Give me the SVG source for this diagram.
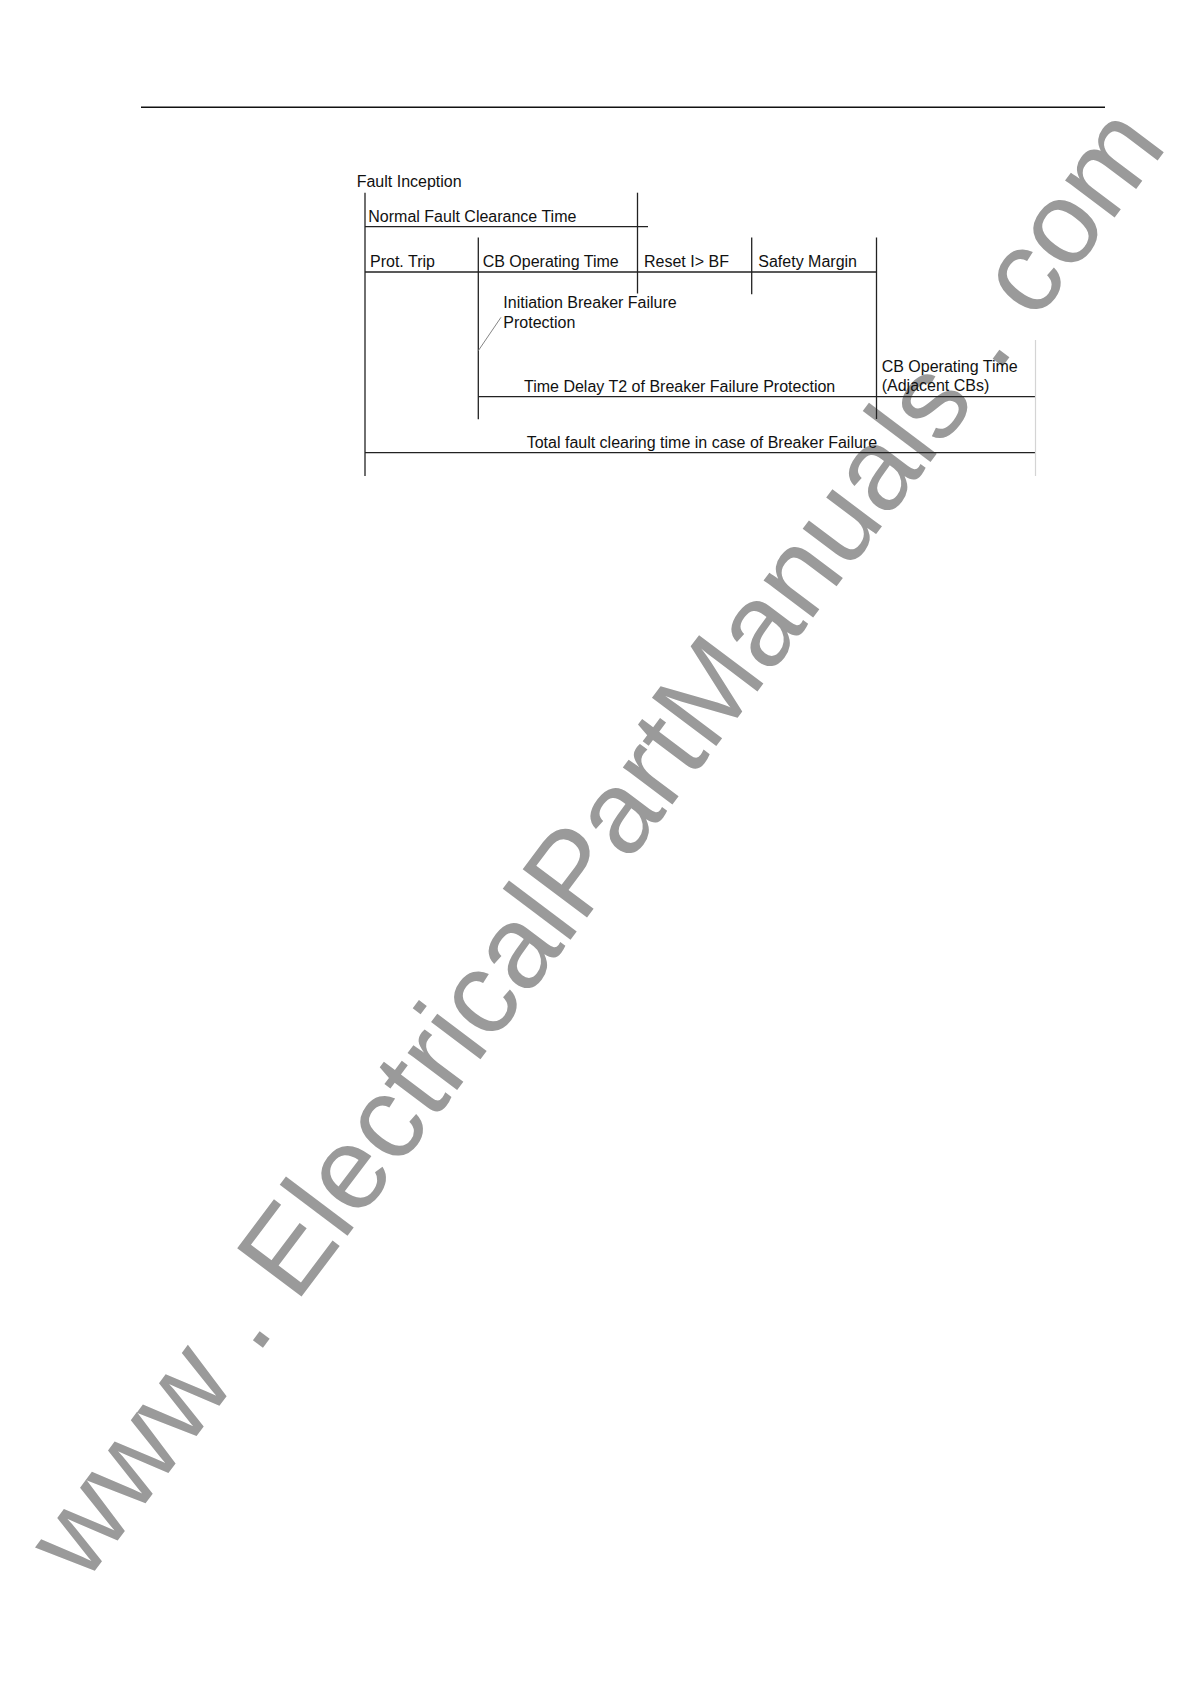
<svg xmlns="http://www.w3.org/2000/svg" width="1190" height="1684" viewBox="0 0 1190 1684">
<style>
.t{font-family:"Liberation Sans",Arial,sans-serif;font-size:16px;fill:#111}
.l{stroke:#222;stroke-width:1.3;fill:none}
.g{stroke:#d4d4d4;stroke-width:1.2;fill:none}
.wm{font-family:"Liberation Sans",Arial,sans-serif;font-size:117px;fill:#9a9a9a}
</style>
<rect width="1190" height="1684" fill="#fff"/>
<text class="wm" transform="translate(84.5,1584.6) rotate(-53)" xml:space="preserve">www . ElectricalPartManuals . com</text>
<line x1="141" y1="107.3" x2="1105" y2="107.3" stroke="#111" stroke-width="1.6"/>
<g id="connectors">
<line class="l" x1="365" y1="192.7" x2="365" y2="476"/>
<line class="l" x1="637.5" y1="192.7" x2="637.5" y2="293.5"/>
<line class="l" x1="365" y1="226.7" x2="648" y2="226.7"/>
<line class="l" x1="478.3" y1="237.5" x2="478.3" y2="419.3"/>
<line class="l" x1="751.7" y1="237.5" x2="751.7" y2="294.3"/>
<line class="l" x1="876.5" y1="237.5" x2="876.5" y2="419"/>
<line class="l" x1="365" y1="272" x2="876.5" y2="272"/>
<line class="l" x1="478.3" y1="396.7" x2="1035.5" y2="396.7"/>
<line class="l" x1="365" y1="452.7" x2="1035.5" y2="452.7"/>
<line class="g" x1="1035.5" y1="340" x2="1035.5" y2="476"/>
<line x1="478.3" y1="350.7" x2="501" y2="317.3" stroke="#777" stroke-width="0.9"/>
</g>
<g id="fault-inception"><text class="t" x="356.7" y="187">Fault Inception</text></g>
<g id="normal-clearance"><text class="t" x="368.3" y="221.7">Normal Fault Clearance Time</text></g>
<g id="prot-trip"><text class="t" x="370" y="267.3">Prot. Trip</text></g>
<g id="cb-operating"><text class="t" x="482.7" y="267.3">CB Operating Time</text></g>
<g id="reset-bf"><text class="t" x="644" y="267.3">Reset I&gt; BF</text></g>
<g id="safety-margin"><text class="t" x="758.3" y="267.3">Safety Margin</text></g>
<g id="initiation"><text class="t" x="503.3" y="308.3">Initiation Breaker Failure</text><text class="t" x="503.3" y="327.7">Protection</text></g>
<g id="time-delay"><text class="t" x="524" y="391.7">Time Delay T2 of Breaker Failure Protection</text></g>
<g id="cb-adjacent"><text class="t" x="881.7" y="371.7">CB Operating Time</text><text class="t" x="881.7" y="390.7">(Adjacent CBs)</text></g>
<g id="total"><text class="t" x="526.7" y="448.3">Total fault clearing time in case of Breaker Failure</text></g>
</svg>
